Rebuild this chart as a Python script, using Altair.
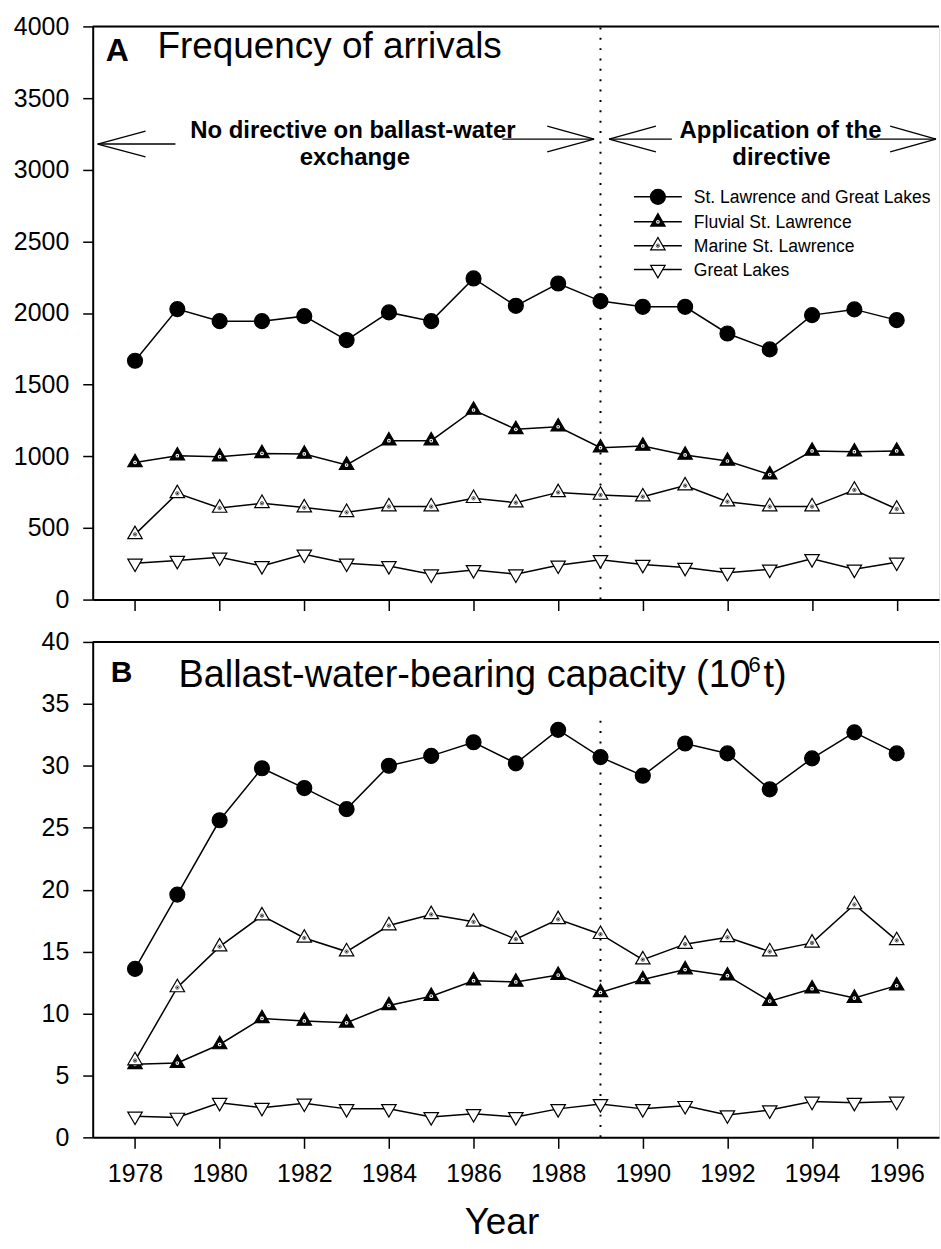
import altair as alt
import pandas as pd

FONT = "Liberation Sans"

years = list(range(1978, 1997))
series_names = ["St. Lawrence and Great Lakes", "Fluvial St. Lawrence",
                "Marine St. Lawrence", "Great Lakes"]
legend_labels = ["St. Lawrence and Great Lakes", "\u00a0Fluvial St. Lawrence",
                 "Marine St. Lawrence", "Great Lakes"]

# Panel A: frequency of arrivals
arr_slgl = [1667, 2027, 1943, 1943, 1978, 1811, 2004, 1943, 2241, 2050,
            2206, 2083, 2043, 2043, 1857, 1746, 1985, 2025, 1950]
arr_fluvial = [957, 1004, 997, 1020, 1016, 939, 1109, 1109, 1323, 1188,
               1206, 1060, 1072, 1009, 967, 872, 1037, 1032, 1037]
arr_marine = [455, 741, 639, 672, 642, 609, 649, 649, 707, 676,
              748, 730, 718, 795, 683, 649, 649, 765, 632]
arr_gl = [253, 272, 295, 235, 316, 253, 235, 177, 207, 177,
          239, 277, 244, 223, 188, 211, 284, 211, 260]

# Panel B: ballast-water-bearing capacity (10^6 t)
cap_slgl = [13.6, 19.6, 25.6, 29.8, 28.2, 26.5, 30.0, 30.8, 31.9, 30.2,
            32.9, 30.7, 29.2, 31.8, 31.0, 28.1, 30.6, 32.7, 31.0]
cap_fluvial = [5.9, 6.0, 7.5, 9.6, 9.4, 9.25, 10.65, 11.4, 12.65, 12.55,
               13.1, 11.7, 12.75, 13.55, 13.05, 11.0, 12.0, 11.25, 12.25]
cap_marine = [6.2, 12.1, 15.4, 17.9, 16.1, 15.0, 17.1, 18.0, 17.4, 16.0,
              17.6, 16.4, 14.35, 15.6, 16.15, 15.0, 15.7, 18.8, 15.9]
cap_gl = [1.7, 1.6, 2.8, 2.4, 2.75, 2.3, 2.3, 1.65, 1.9, 1.65,
          2.3, 2.7, 2.3, 2.55, 1.8, 2.2, 2.9, 2.8, 2.9]

x_ticks = list(range(1978, 1997, 2))
yA_ticks = list(range(0, 4001, 500))
yB_ticks = list(range(0, 41, 5))

styles = {
    series_names[0]: dict(shape="circle", fill="black", size=225, dy=0, inner=None),
    series_names[1]: dict(shape="triangle-up", fill="black", size=210, dy=-2, inner="white"),
    series_names[2]: dict(shape="triangle-up", fill="white", size=210, dy=-2, inner="black"),
    series_names[3]: dict(shape="triangle-down", fill="white", size=210, dy=2, inner=None),
}

W = 849
X_SCALE = alt.Scale(domain=[1977, 1997], nice=False, zero=False)


def text_layer(t, x, y, size, weight="normal", align="left", baseline="alphabetic", font=FONT):
    return alt.Chart(pd.DataFrame({"t": [t]})).mark_text(
        align=align, baseline=baseline, fontSize=size, fontWeight=weight,
        font=font, color="black"
    ).encode(x=alt.value(x), y=alt.value(y), text="t:N")


def seg(x1, y1, x2, y2, w=1.3):
    return alt.Chart(pd.DataFrame({"k": [0]})).mark_rule(color="black", strokeWidth=w).encode(
        x=alt.value(x1), y=alt.value(y1), x2=alt.value(x2), y2=alt.value(y2))


def marker_layers(src, s, enc):
    st = styles[s]
    out = [src.mark_point(shape=st["shape"], filled=True, fill=st["fill"], stroke="black",
                          strokeWidth=1.2, size=st["size"], yOffset=st["dy"], opacity=1).encode(**enc)]
    if st["inner"] == "white":
        out.append(src.mark_point(shape="circle", filled=True, fill="white", size=14, opacity=1).encode(**enc))
        out.append(src.mark_point(shape="circle", filled=True, fill="black", size=2.5, opacity=1).encode(**enc))
    elif st["inner"] == "black":
        out.append(src.mark_point(shape="circle", filled=False, stroke="black", strokeWidth=0.6,
                                  size=12, opacity=1).encode(**enc))
        out.append(src.mark_point(shape="circle", filled=True, fill="black", size=3, opacity=1).encode(**enc))
    return out


def make_panel(values, ymax, yticks, height, dot_top, x_labels, extra):
    df = pd.DataFrame({
        "year": years * 4,
        "value": [v for vals in values for v in vals],
        "series": [s for s in series_names for _ in years],
    })
    xaxis = dict(values=x_ticks, format="d", labels=x_labels, labelFontSize=25, labelFont=FONT,
                 labelColor="black", labelPadding=13, tickSize=11, tickWidth=1.5, tickColor="black",
                 domainColor="black", domainWidth=2, grid=False)
    if x_labels:
        xaxis.update(title="Year", titleFontSize=37, titleFont=FONT, titleFontWeight="normal",
                     titleColor="black", titleX=410, titleY=96, titleAlign="center",
                     titleBaseline="alphabetic")
    else:
        xaxis.update(title=None)
    xenc = alt.X("year:Q", scale=X_SCALE, axis=alt.Axis(**xaxis))
    yenc = alt.Y("value:Q", scale=alt.Scale(domain=[0, ymax], nice=False, zero=True),
                 axis=alt.Axis(values=yticks, format="d", labelFontSize=25, labelFont=FONT,
                               labelColor="black", labelPadding=14, tickSize=10, tickWidth=1.5,
                               tickColor="black", domainColor="black", domainWidth=2, grid=False,
                               title=None, minExtent=92, maxExtent=92))
    enc = dict(x=xenc, y=yenc)
    base = alt.Chart(df)
    layers = []
    layers.append(alt.Chart(pd.DataFrame({"k": [0]})).mark_rule(color="black", strokeWidth=2)
                  .encode(y=alt.datum(ymax)))
    layers.append(alt.Chart(pd.DataFrame({"k": [0]})).mark_rule(color="black", strokeWidth=2,
                                                                 strokeDash=[2, 8.4])
                  .encode(x=alt.datum(1989), y=alt.datum(0), y2=alt.datum(dot_top)))
    for s in series_names:
        src = base.transform_filter(alt.datum.series == s)
        layers.append(src.mark_line(color="black", strokeWidth=1.5).encode(**enc))
    for s in series_names:
        src = base.transform_filter(alt.datum.series == s)
        layers.extend(marker_layers(src, s, enc))
    layers.extend(extra)
    return alt.layer(*layers).properties(width=W, height=height)


# ---- annotations for panel A ----
extraA = [
    text_layer("A", 13, 35, 32, weight="bold"),
    text_layer("Frequency of arrivals", 65, 32, 37),
    text_layer("No directive on ballast-water", 261, 112, 24, weight="bold", align="center"),
    text_layer("exchange", 263, 139, 24, weight="bold", align="center"),
    text_layer("Application of the", 690, 112, 24, weight="bold", align="center"),
    text_layer("directive", 691, 139, 24, weight="bold", align="center"),
    # arrows
    seg(5, 118, 83, 118), seg(5, 118, 53, 105), seg(5, 118, 53, 131),
    seg(411, 113, 503, 113), seg(503, 113, 456, 100), seg(503, 113, 456, 126),
    seg(518, 113, 581, 113), seg(518, 113, 565, 100), seg(518, 113, 565, 126),
    seg(776, 113, 846, 113), seg(846, 113, 800, 100), seg(846, 113, 800, 126),
]

# legend
legend_rows = [171, 196, 220, 244]
for i, s in enumerate(series_names):
    yy = legend_rows[i]
    extraA.append(seg(543, yy, 591, yy, 1.5))
    one = alt.Chart(pd.DataFrame({"k": [0]}))
    lenc = dict(x=alt.value(567), y=alt.value(yy))
    extraA.extend(marker_layers(one, s, lenc))
    extraA.append(text_layer(legend_labels[i], 603, yy + 1, 17.6, baseline="middle"))

# ---- annotations for panel B ----
extraB = [
    text_layer("B", 18, 40, 30, weight="bold"),
    text_layer("Ballast-water-bearing capacity (10", 86, 45, 38),
    text_layer("6", 658, 30, 22),
    text_layer("t)", 673, 45, 38),
]

panelA = make_panel([arr_slgl, arr_fluvial, arr_marine, arr_gl], 4000, yA_ticks, 575, 4000, False, extraA)
panelB = make_panel([cap_slgl, cap_fluvial, cap_marine, cap_gl], 40, yB_ticks, 497, 34, True, extraB)

chart = alt.vconcat(panelA, panelB, spacing=15.5).properties(
    padding={"left": 0, "right": 0, "top": 11.5, "bottom": 0},
    background="white",
).configure_view(stroke=None).configure(font=FONT)

chart.save("out.html", embed_options={"renderer": "svg", "actions": False})
